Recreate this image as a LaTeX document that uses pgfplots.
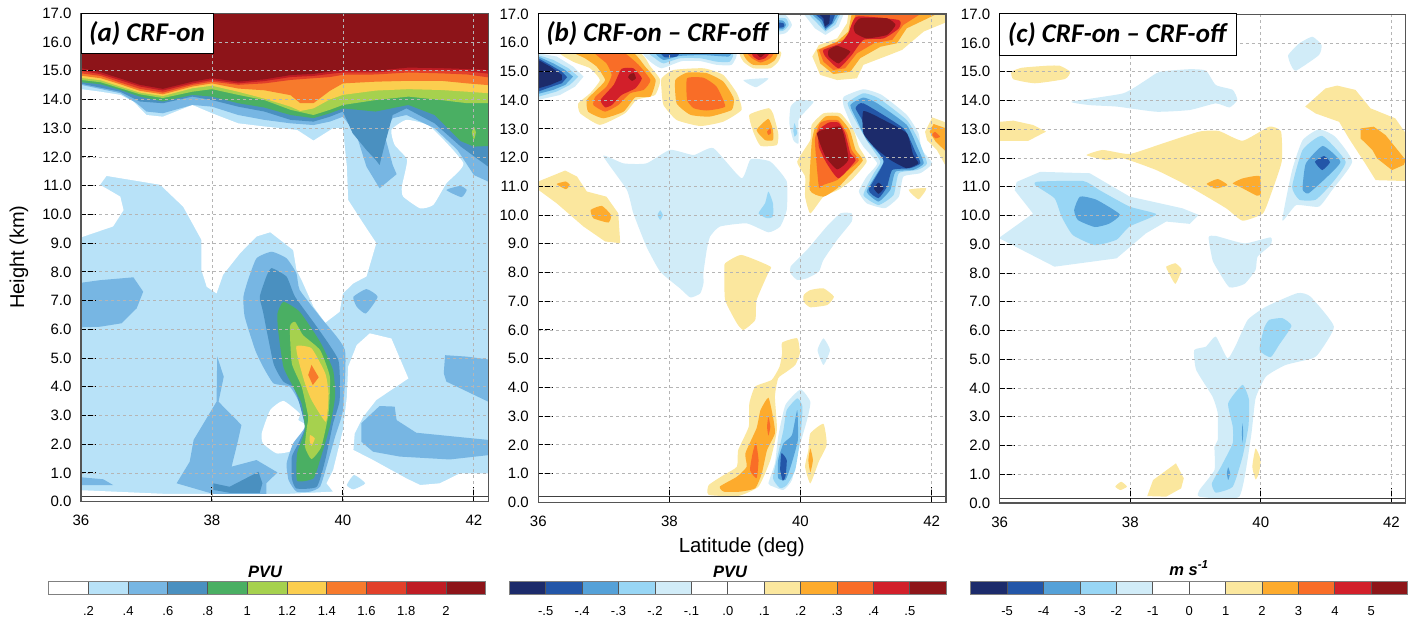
\documentclass[border=0pt]{standalone}
\usepackage{fontspec}
\usepackage{pgfplots}
\pgfplotsset{compat=1.18}
\setmainfont{Liberation Sans}
\newfontfamily\titlefont{Carlito}
\definecolor{lb}{HTML}{B8E2F8}\definecolor{mb}{HTML}{77B6E3}\definecolor{db}{HTML}{4A90C0}
\definecolor{gr}{HTML}{4AAF63}\definecolor{lg}{HTML}{A6D14E}\definecolor{ye}{HTML}{FBCE4F}
\definecolor{or}{HTML}{F77A2C}\definecolor{ro}{HTML}{E2402A}\definecolor{re}{HTML}{BF1C24}\definecolor{dr}{HTML}{8D1419}
\definecolor{nv}{HTML}{1C2B6B}\definecolor{bl}{HTML}{2356A8}\definecolor{me}{HTML}{55A1D8}
\definecolor{li}{HTML}{98D6F5}\definecolor{pa}{HTML}{D1ECF8}\definecolor{py}{HTML}{FBE79E}
\definecolor{og}{HTML}{FDAB2D}\definecolor{rg}{HTML}{F96D27}\definecolor{rd}{HTML}{D21F2A}\definecolor{dk}{HTML}{8E1519}
\definecolor{fr}{HTML}{555555}\definecolor{gd}{HTML}{B5B5B5}
\newcommand{\poly}[2]{\addplot[fill=#1,draw=none,forget plot,smooth cycle,tension=0.3] coordinates {#2};}
\newcommand{\edge}[2]{\addplot[fill=#1,draw=none,forget plot] coordinates {#2} -- cycle;}
\pgfplotsset{
 panel/.style={scale only axis,anchor=south west,xmin=36,xmax=42.22,ymin=0,ymax=17,
  xtick={36,38,40,42},ytick={0,1,...,17},axis on top=true,
  grid=major,grid style={dashed,gd,line width=0.8pt},
  xtick pos=bottom,ytick pos=left,tick align=inside,major tick length=15pt,
  tick style={black,line width=1pt,dash pattern=on 5pt off 2pt},
  axis line style={fr,line width=1.2pt,solid},
  /pgf/number format/assume math mode=true,
  xticklabel style={font=\fontsize{15}{15}\selectfont,yshift=-10pt},
  yticklabel style={font=\fontsize{15}{15}\selectfont,xshift=-6pt,
    /pgf/number format/fixed,/pgf/number format/fixed zerofill,/pgf/number format/precision=1},
 },
 cbar/.style={scale only axis,anchor=south west,ymin=0,ymax=1,xmin=0,ytick=\empty,
  height=12.6pt,width=437pt,axis on top=true,xmajorgrids,grid style={fr,line width=0.8pt,solid},
  axis line style={gray,line width=1pt},major tick length=0pt,
  xticklabel style={font=\fontsize{13}{13}\selectfont,yshift=-9pt},
 },
}
\newcommand{\cellat}[3]{\addplot[fill=#3,draw=none,forget plot] coordinates {(#1,0)(#2,0)(#2,1)(#1,1)} -- cycle;}
\begin{document}
\begin{tikzpicture}[x=1pt,y=1pt]
\useasboundingbox (0,0) rectangle (1418,620);
%% PANEL A
\begin{axis}[panel,at={(81pt,118.3pt)},width=407.3pt,height=488.4pt]
\edge{lb}{(36,0)(42.22,0)(42.22,17)(36,17)}
\edge{white}{(36,14.36)(36.3,14.27)(36.6,14.16)(36.8,13.93)(37,13.46)(37.25,13.4)(37.7,13.81)(38,13.52)(38.4,13.17)(38.8,13.06)(39.3,12.94)(39.55,12.57)(39.85,13)(40,13)(40.06,11.66)(40.08,10.5)(40.31,9.69)(40.51,9)(40.36,7.84)(40.16,7.6)(40,7.25)(39.95,6.61)(39.73,6.23)(39.55,6.79)(39.37,7.71)(39.29,8.07)(39.24,8.76)(38.89,9.38)(38.68,9.23)(38.43,8.65)(38.17,7.9)(38.07,7.25)(37.92,7.48)(37.84,8.06)(37.84,9.11)(37.56,10.27)(37.21,11.03)(36.39,11.34)(36.29,11.03)(36.6,10.62)(36.65,10.15)(36.49,9.58)(36,9.2)}
\poly{white}{(40.74,12.94)(40.97,13.29)(41.33,13.06)(41.84,11.78)(41.58,11.08)(41.38,10.33)(41.18,10.21)(40.92,10.62)(40.9,10.97)(40.98,11.9)(40.79,12.42)}
\edge{white}{(40.21,5.45)(40.41,5.86)(40.74,5.68)(41,4.29)(40.51,3.54)(40.31,2.96)(40.18,2.38)(40.16,1.8)(40.46,1.45)(40.97,.81)(41.18,.58)(41.48,.64)(41.79,.99)(42.22,.99)(42.22,0)(36,0)(36,.4)(37.31,.27)(39.14,.27)(39.85,.35)(39.75,.64)(39.85,1.1)(40,2.49)(40.06,3.65)(40.08,4.7)}
\poly{lb}{(40.06,.58)(40.17,.93)(40.34,.64)(40.16,.43)}
\poly{white}{(39.09,3.51)(39.34,3.07)(39.32,2.84)(39.45,2.61)(39.24,1.8)(38.99,1.68)(38.78,2.03)(38.76,2.38)(38.89,3.19)}
\edge{mb}{(36,7.62)(36.29,7.71)(36.8,7.81)(36.95,7.31)(36.85,6.73)(36.62,6.21)(36.29,6.09)(36,6.07)}
\edge{mb}{(36,.85)(36.34,.78)(36.49,.58)(36,.58)}
\edge{mb}{(37.46,.64)(37.66,1.39)(37.72,2.15)(38.07,3.48)(38.08,5.05)(38.18,4.35)(38.1,3.48)(38.45,2.67)(38.4,2.15)(38.3,1.22)(38.68,1.45)(39,1.02)(38.83,.64)(38.83,.27)(38.02,.27)}
\poly{mb}{(38.55,7.71)(38.68,8.47)(38.91,8.7)(39.14,8.47)(39.29,7.95)(39.34,7.37)(39.65,6.44)(40.03,5.28)(40,3.19)(39.88,2.26)(39.75,1.22)(39.65,.52)(39.5,.35)(39.29,.35)(39.17,.75)(39.14,1.33)(39.24,2.03)(39.42,2.61)(39.34,3.42)(39.19,4)(38.94,4.12)(38.78,4.7)(38.66,5.28)(38.5,6.44)(38.48,7.13)}
\poly{mb}{(40.16,7.13)(40.36,7.4)(40.53,7.13)(40.35,6.55)(40.21,6.79)}
\edge{mb}{(41.56,5.1)(41.89,5.05)(42.22,4.95)(42.22,3.48)(41.58,4.18)(41.54,4.47)}
\edge{mb}{(40.56,3.33)(40.79,3.31)(40.82,2.84)(41.12,2.4)(42.22,2.15)(42.22,1.62)(41.63,1.47)(40.87,1.57)(40.46,1.74)(40.28,2.09)(40.28,2.73)}
\poly{mb}{(41.58,10.85)(41.79,10.99)(41.89,10.85)(41.81,10.6)}
\poly{db}{(38.91,8.13)(39.14,7.83)(39.27,7.13)(39.6,6.09)(39.93,4.93)(39.95,3.54)(39.85,2.73)(39.73,1.45)(39.6,.52)(39.29,.46)(39.22,.81)(39.22,1.57)(39.32,2.03)(39.42,2.61)(39.32,3.54)(39.24,4)(39.09,4.18)(38.94,4.81)(38.78,6.61)(38.73,7.13)(38.83,7.83)}
\edge{db}{(38.02,.64)(38.27,.52)(38.71,1.04)(38.77,.64)(38.73,.31)(38.27,.31)(38.02,.41)}
\poly{gr}{(39.09,6.96)(39.34,6.61)(39.65,5.57)(39.85,4.58)(39.88,3.65)(39.8,2.61)(39.65,1.45)(39.55,.81)(39.3,.73)(39.3,1.68)(39.42,2.49)(39.37,3.42)(39.24,4)(39.09,4.7)(39.01,5.97)(39,6.55)}
\poly{lg}{(39.27,6.26)(39.39,5.8)(39.65,5.28)(39.8,4.35)(39.78,3.07)(39.67,1.91)(39.52,1.48)(39.42,1.91)(39.45,2.61)(39.47,2.96)(39.37,4)(39.22,4.81)(39.19,6.09)}
\poly{ye}{(39.29,5.42)(39.52,5.34)(39.73,4.47)(39.78,3.77)(39.74,2.78)(39.52,3.54)(39.42,4.12)(39.32,4.93)}
\poly{ye}{(39.5,2.32)(39.57,2.2)(39.52,1.94)(39.49,2.15)}
\edge{or}{(39.52,4.76)(39.63,4.33)(39.54,4.06)(39.47,4.41)}
% top bands, lowest level first
\edge{mb}{(36,14.51)(36.6,14.22)(36.85,13.87)(37,13.58)(37.25,13.52)(37.7,13.81)(38,13.75)(38.4,13.46)(38.8,13.29)(39.2,13.17)(39.55,13.11)(39.8,13.23)(40,13.4)(40.2,12.82)(40.36,11.66)(40.56,10.91)(40.82,11.4)(40.76,11.72)(40.63,12.82)(40.76,13.35)(40.97,13.46)(41.4,13)(41.75,12.24)(42,11.37)(42.22,11.14)(42.22,17)(36,17)}
\edge{db}{(36,14.55)(36.6,14.27)(36.9,13.93)(37.25,13.87)(37.7,14.1)(38,13.98)(38.4,13.75)(38.8,13.58)(39.2,13.29)(39.55,13.23)(39.8,13.4)(40,13.58)(40.15,12.82)(40.36,12.24)(40.5,11.9)(40.56,11.72)(40.63,12.36)(40.76,13.46)(40.97,13.69)(41.4,13.17)(41.8,12.36)(42.22,11.66)(42.22,17)(36,17)}
\edge{gr}{(36,14.6)(36.3,14.53)(36.6,14.33)(36.9,14.1)(37.25,13.93)(37.7,14.16)(38,14.1)(38.4,13.87)(38.8,13.72)(39.2,13.46)(39.55,13.35)(39.8,13.52)(40,13.69)(40.5,13.58)(41,13.81)(41.4,13.46)(41.8,12.55)(42,12.36)(42.22,12.38)(42.22,17)(36,17)}
\edge{lg}{(36,14.68)(36.3,14.6)(36.6,14.39)(36.9,14.18)(37.25,14.05)(37.7,14.27)(38,14.36)(38.4,14.16)(38.8,13.98)(39.2,13.64)(39.55,13.46)(39.8,13.64)(40,13.81)(40.5,13.98)(41,14.1)(41.5,13.98)(41.9,13.87)(42.22,13.87)(42.22,17)(36,17)}
\edge{ye}{(36,14.75)(36.3,14.67)(36.6,14.45)(36.9,14.24)(37.25,14.12)(37.7,14.39)(38,14.48)(38.4,14.27)(38.8,14.03)(39.2,13.75)(39.35,13.6)(39.55,13.69)(39.8,14)(40,14.16)(40.5,14.31)(41,14.36)(41.5,14.33)(41.9,14.27)(42.22,14.22)(42.22,17)(36,17)}
\edge{or}{(36,14.83)(36.3,14.74)(36.6,14.53)(36.9,14.3)(37.25,14.18)(37.7,14.45)(38,14.56)(38.4,14.38)(38.8,14.32)(39.2,14.15)(39.35,13.87)(39.55,13.87)(39.8,14.3)(40,14.56)(40.5,14.62)(41,14.65)(41.5,14.65)(41.9,14.56)(42.22,14.5)(42.22,17)(36,17)}
\edge{ro}{(36,14.91)(36.3,14.82)(36.6,14.59)(36.9,14.37)(37.25,14.24)(37.7,14.51)(38,14.62)(38.4,14.51)(38.8,14.56)(39.2,14.68)(39.55,14.74)(39.8,14.78)(40,14.86)(40.5,14.87)(41,14.94)(41.5,14.91)(41.9,14.87)(42.22,14.77)(42.22,17)(36,17)}
\edge{re}{(36,15)(36.3,14.88)(36.6,14.67)(36.9,14.45)(37.25,14.31)(37.7,14.56)(38,14.68)(38.4,14.56)(38.8,14.64)(39.2,14.78)(39.55,14.82)(39.8,14.89)(40,14.94)(40.5,14.94)(41,15.03)(41.5,15.01)(41.9,14.98)(42.22,14.9)(42.22,17)(36,17)}
\edge{dr}{(36,15.09)(36.3,14.95)(36.6,14.73)(36.9,14.51)(37.25,14.37)(37.7,14.62)(38,14.74)(38.4,14.62)(38.8,14.7)(39.2,14.85)(39.55,14.89)(39.8,14.97)(40,15.03)(40.5,15)(41,15.11)(41.5,15.09)(41.9,15.06)(42.22,15.03)(42.22,17)(36,17)}
\poly{lg}{(42,13.05)(42.03,12.85)(42,12.6)(41.97,12.85)}
\addplot[black!75,line width=0.9pt,forget plot] coordinates {(36,.17)(42.22,.17)};
\end{axis}
%% PANEL B
\begin{axis}[panel,at={(538.3pt,117.7pt)},width=407.7pt,height=488.3pt]
\edge{pa}{(36,15.63)(36.28,15.52)(36.53,15.17)(36.69,14.82)(36.56,14.47)(36.33,14.18)(36,14.01)}
\edge{li}{(36,15.57)(36.23,15.4)(36.46,15.11)(36.61,14.82)(36.48,14.53)(36.28,14.3)(36,14.12)}
\edge{me}{(36,15.52)(36.23,15.28)(36.41,15.05)(36.53,14.82)(36.41,14.53)(36.23,14.36)(36,14.22)}
\edge{bl}{(36,15.46)(36.18,15.23)(36.36,14.99)(36.44,14.8)(36.36,14.59)(36.18,14.45)(36,14.3)}
\edge{nv}{(36,15.4)(36.18,15.17)(36.36,14.88)(36.36,14.7)(36.18,14.53)(36,14.41)}
\poly{py}{(36.33,15.7)(37.5,15.7)(37.71,15.17)(37.86,14.7)(37.78,14.18)(37.5,14.01)(37.32,13.54)(36.94,13.14)(36.64,13.54)(36.61,13.89)(36.79,14.24)(36.94,14.7)(36.79,15.11)(36.53,15.34)}
\poly{og}{(36.53,15.7)(37.4,15.7)(37.63,15.17)(37.79,14.7)(37.71,14.12)(37.48,14.1)(37.3,13.6)(36.99,13.37)(36.76,13.6)(36.74,14.01)(36.89,14.36)(37.02,14.7)(36.89,15.17)(36.71,15.46)}
\poly{rg}{(36.84,15.7)(37.27,15.7)(37.53,15.23)(37.71,14.7)(37.61,14.36)(37.4,14.24)(37.22,13.83)(37.02,13.6)(36.84,13.83)(36.87,14.12)(37.04,14.47)(37.12,14.88)(37.04,15.28)}
\poly{rd}{(37.27,15.09)(37.45,15.11)(37.58,14.76)(37.48,14.41)(37.27,14.18)(37.12,13.83)(37.02,13.75)(36.95,14.01)(37.15,14.53)}
\poly{dk}{(37.4,14.91)(37.46,14.94)(37.49,14.76)(37.43,14.67)(37.37,14.8)}
\poly{py}{(37.88,14.76)(38.06,15.05)(38.52,15.11)(38.82,14.88)(39.03,14.24)(39.1,13.66)(38.82,13.25)(38.47,13.1)(38.11,13.31)(37.91,13.83)(37.88,14.36)}
\poly{og}{(38.09,14.7)(38.27,14.96)(38.57,14.94)(38.82,14.65)(38.98,14.07)(38.95,13.66)(38.62,13.43)(38.32,13.49)(38.11,13.89)}
\poly{rg}{(38.27,14.76)(38.52,14.78)(38.72,14.47)(38.85,13.78)(38.57,13.64)(38.37,13.72)(38.27,14.01)}
\poly{pa}{(37.63,15.7)(38.98,15.7)(38.95,15.23)(38.72,15.23)(38.47,15.36)(38.19,15.36)(37.88,15.11)(37.71,15.34)}
\poly{li}{(37.71,15.7)(38.93,15.7)(38.92,15.34)(38.72,15.34)(38.47,15.46)(38.16,15.46)(37.91,15.28)(37.78,15.46)}
\poly{me}{(37.81,15.7)(38.9,15.7)(38.9,15.52)(38.52,15.57)(38.16,15.54)(37.91,15.4)}
\poly{bl}{(37.86,15.7)(38.16,15.7)(38.11,15.52)(37.93,15.49)}
\poly{py}{(39.08,15.7)(39.69,15.7)(39.66,15.34)(39.54,15.11)(39.28,15.11)(39.13,15.34)}
\poly{og}{(39.13,15.7)(39.64,15.7)(39.61,15.4)(39.49,15.23)(39.28,15.23)(39.18,15.4)}
\poly{rg}{(39.18,15.7)(39.59,15.7)(39.54,15.46)(39.39,15.31)(39.26,15.46)}
\poly{rd}{(39.26,15.7)(39.54,15.7)(39.46,15.46)(39.36,15.4)(39.28,15.52)}
\poly{dk}{(39.31,15.7)(39.49,15.7)(39.39,15.49)}
\poly{pa}{(39.5,16.97)(39.77,16.97)(39.87,16.62)(39.77,16.33)(39.5,16.27)}
\poly{li}{(39.5,16.85)(39.77,16.85)(39.82,16.62)(39.74,16.42)(39.5,16.39)}
\poly{me}{(39.5,16.79)(39.73,16.77)(39.78,16.62)(39.73,16.47)(39.5,16.47)}
\poly{bl}{(39.5,16.73)(39.74,16.68)(39.74,16.54)(39.5,16.5)}
\edge{pa}{(40.05,17)(40.66,17)(40.58,16.56)(40.38,16.27)(40.22,16.5)}
\edge{li}{(40.12,17)(40.61,17)(40.53,16.62)(40.38,16.39)(40.28,16.62)}
\edge{me}{(40.17,17)(40.58,17)(40.5,16.68)(40.38,16.44)(40.3,16.73)}
\edge{bl}{(40.22,17)(40.53,17)(40.48,16.68)(40.38,16.5)(40.33,16.79)}
\edge{nv}{(40.28,17)(40.45,17)(40.44,16.68)(40.37,16.56)(40.35,16.85)}
\edge{py}{(40.73,17)(42.22,17)(42.21,16.7)(41.88,16.39)(41.55,15.75)(41.35,15.57)(40.96,15.23)(40.86,14.76)(40.56,14.7)(40.3,14.88)(40.18,15.52)(40.28,15.92)(40.56,16.15)(40.71,16.68)}
\edge{og}{(40.78,17)(42.08,17)(41.62,16.5)(41.47,15.98)(41.22,15.86)(40.91,15.46)(40.76,14.99)(40.5,14.91)(40.3,15.28)(40.25,15.75)(40.56,16.04)(40.73,16.39)}
\edge{rg}{(40.84,16.97)(41.83,17)(41.57,16.62)(41.4,16.1)(41.12,15.98)(40.86,15.63)(40.68,15.11)(40.5,15.05)(40.35,15.34)(40.28,15.75)(40.45,15.92)(40.71,16.15)}
\poly{rd}{(40.86,16.91)(41.5,16.79)(41.5,16.5)(41.27,16.15)(40.96,16.1)(40.78,15.57)(40.58,15.11)(40.38,15.52)(40.35,15.75)(40.61,15.98)(40.73,16.33)}
\poly{dk}{(40.91,16.85)(41.32,16.85)(41.45,16.62)(41.32,16.27)(41.01,16.15)(40.84,16.33)(40.81,16.56)}
\poly{dk}{(40.56,15.89)(40.76,15.69)(40.58,15.28)(40.43,15.52)(40.43,15.75)}
\poly{pa}{(39.13,14.7)(39.51,14.76)(39.32,14.45)}
\poly{py}{(39.22,13.49)(39.51,13.72)(39.58,13.54)(39.66,12.85)(39.64,12.44)(39.39,12.41)(39.28,12.9)}
\poly{og}{(39.33,12.96)(39.51,13.35)(39.58,12.96)(39.58,12.61)(39.46,12.61)}
\poly{rg}{(39.49,12.9)(39.54,13.02)(39.55,12.85)(39.51,12.79)}
\poly{pa}{(39.85,13.78)(39.97,14.01)(40.2,13.95)(40.07,13.6)(39.97,13.31)(39.97,12.5)(39.89,12.61)(39.83,13.2)}
\poly{li}{(39.91,13.2)(39.95,12.85)(39.91,12.73)(39.89,12.96)}
\poly{py}{(39.95,11.86)(40.15,12.61)(40.17,13.14)(40.35,13.54)(40.61,13.54)(40.81,12.96)(40.89,12.38)(41.01,11.86)(40.78,11.22)(40.58,10.88)(40.35,10.64)(40.15,10.06)(40.07,10.64)(40.07,11.34)}
\poly{og}{(40.14,10.88)(40.17,12.5)(40.22,13.02)(40.38,13.43)(40.58,13.43)(40.75,12.96)(40.84,12.27)(40.95,11.9)(40.73,11.34)(40.56,10.93)(40.35,10.64)}
\poly{rg}{(40.28,10.99)(40.22,12.61)(40.3,13.2)(40.43,13.31)(40.58,13.29)(40.71,12.85)(40.78,12.27)(40.89,11.9)(40.73,11.57)(40.56,11.22)(40.35,11.05)}
\poly{rd}{(40.28,12.38)(40.28,12.96)(40.43,13.22)(40.58,13.22)(40.68,12.85)(40.76,12.15)(40.84,11.9)(40.58,11.28)(40.4,11.8)}
\poly{dk}{(40.25,12.85)(40.43,13.02)(40.61,13.08)(40.67,12.73)(40.73,11.92)(40.56,11.59)(40.38,12.04)}
\poly{pa}{(40.66,14.12)(40.96,14.38)(41.24,14.18)(41.62,13.49)(41.8,12.85)(41.85,12.27)(42.01,11.8)(41.83,11.46)(41.57,11.34)(41.5,10.64)(41.29,10.24)(41.01,10.41)(40.89,10.82)(41.01,11.34)(41.17,11.8)(40.96,12.38)(40.81,12.96)(40.66,13.78)}
\poly{li}{(40.72,13.89)(40.96,14.24)(41.19,14.07)(41.62,13.31)(41.8,12.61)(41.93,11.8)(41.78,11.57)(41.5,11.46)(41.42,10.7)(41.19,10.35)(40.96,10.7)(41.12,11.46)(41.22,11.86)(41.04,12.5)(40.86,13.2)}
\poly{me}{(40.76,13.83)(40.96,14.09)(41.17,13.89)(41.62,13.14)(41.78,12.38)(41.88,11.8)(41.72,11.57)(41.45,11.51)(41.37,10.88)(41.19,10.47)(41.01,10.82)(41.17,11.46)(41.27,11.92)(41.01,12.61)(40.86,13.31)}
\poly{bl}{(40.84,13.72)(40.96,13.89)(41.57,13.02)(41.75,12.21)(41.83,11.8)(41.67,11.63)(41.4,11.57)(41.32,10.99)(41.19,10.59)(41.04,10.88)(41.27,11.86)(41.04,12.61)(40.94,13.31)}
\poly{nv}{(40.96,13.62)(41.27,13.31)(41.62,12.85)(41.72,12.09)(41.8,11.8)(41.62,11.63)(41.37,11.92)(41.12,12.38)(40.96,12.85)}
\poly{nv}{(41.12,10.93)(41.19,11.13)(41.27,10.93)(41.19,10.74)}
\edge{py}{(41.9,12.9)(42.01,13.4)(42.22,13.22)(42.22,11.69)(42.08,12.27)(41.93,12.61)}
\edge{og}{(41.97,12.9)(42.03,13.17)(42.22,13.02)(42.22,12.21)(42.06,12.56)}
\poly{rg}{(42.01,12.79)(42.05,12.9)(42.13,12.73)(42.06,12.67)}
\poly{py}{(41.65,10.88)(41.92,10.93)(41.8,10.55)}
\edge{py}{(36,11.17)(36.41,11.55)(36.59,11.34)(36.74,10.82)(37.04,10.64)(37.22,10.06)(37.25,9.02)(37.02,9.08)(36.69,9.6)(36.28,10.41)(36,10.88)}
\poly{og}{(36.28,11.08)(36.42,11.17)(36.48,11.05)(36.42,10.9)}
\poly{og}{(36.8,10.18)(36.97,10.32)(37.11,10)(37.07,9.74)(36.84,9.89)}
\poly{pa}{(36.99,12.06)(37.3,11.8)(37.65,11.8)(38.01,12.27)(38.37,12.09)(38.67,12.33)(39.1,11.28)(39.24,11.94)(39.54,11.86)(39.79,11.17)(39.79,10.18)(39.69,9.6)(39.51,9.4)(39.18,9.71)(38.77,9.6)(38.62,9.25)(38.57,8.79)(38.52,8)(38.52,7.62)(38.47,7.27)(38.32,7.13)(38.16,7.45)(37.86,8.03)(37.65,8.9)(37.45,10.06)(37.35,10.88)}
\poly{li}{(39.51,10.82)(39.58,10.41)(39.58,9.95)(39.49,9.89)(39.36,10.06)(39.46,10.41)}
\poly{li}{(37.86,10.16)(37.9,10)(37.86,9.83)(37.82,10)}
\poly{pa}{(39.85,8.21)(40.1,8.79)(40.4,9.6)(40.61,10.06)(40.78,10.06)(40.78,9.77)(40.56,9.14)(40.35,8.44)(40.28,8.03)(40.1,7.8)(39.95,7.74)(39.85,7.97)}
\poly{py}{(38.85,8.32)(39.1,8.61)(39.54,8.21)(39.51,8)(39.33,7.04)(39.31,6.35)(39.13,6)(39.03,6.23)(38.85,7.04)(38.84,8)}
\poly{py}{(40.05,7.22)(40.15,7.39)(40.35,7.45)(40.51,7.16)(40.41,6.87)(40.15,6.79)(40.05,6.98)}
\poly{pa}{(40.35,5.71)(40.45,5.3)(40.35,4.78)(40.26,5.3)}
\poly{py}{(39.72,5.56)(39.95,5.71)(39.99,5.19)(39.92,4.78)(39.79,4.55)(39.66,4.32)(39.61,3.68)(39.64,2.52)(39.54,1.47)(39.36,.55)(39.05,.22)(38.6,.26)(38.6,.6)(38.83,.95)(39.03,1.24)(39.05,1.82)(39.21,2.63)(39.22,3.45)(39.31,4.03)(39.56,4.26)(39.68,4.72)(39.72,5.19)}
\poly{og}{(39.51,3.64)(39.58,2.98)(39.61,2.4)(39.49,1.82)(39.41,1.01)(39.31,.49)(39.08,.37)(38.83,.37)(38.77,.55)(39.03,.89)(39.18,1.24)(39.16,1.71)(39.33,2.58)(39.39,3.21)}
\poly{rg}{(39.32,2.08)(39.36,1.47)(39.33,.84)(39.23,1.12)(39.27,1.71)}
\poly{rg}{(39.51,2.98)(39.54,2.63)(39.51,2.32)(39.49,2.63)}
\poly{pa}{(40,3.93)(40.15,3.5)(40.1,2.87)(39.97,1.82)(39.87,.78)(39.74,.43)(39.58,.55)(39.51,.66)(39.61,1.36)(39.66,2.29)(39.77,3.39)}
\poly{li}{(39.95,3.62)(40.03,3.33)(40,2.29)(39.92,1.13)(39.79,.6)(39.69,.49)(39.58,.84)(39.66,1.71)(39.74,2.52)(39.79,3.21)}
\poly{me}{(39.95,3.21)(39.96,2.17)(39.85,1.24)(39.77,.78)(39.66,.84)(39.66,1.47)(39.74,2.05)(39.87,2.34)}
\poly{bl}{(39.71,1.71)(39.79,1.47)(39.77,.89)(39.73,.75)(39.69,1.13)}
\poly{py}{(40.15,2.4)(40.35,2.73)(40.4,2)(40.28,1.42)(40.15,.66)(40.07,1.24)(40.12,1.82)}
\poly{og}{(40.15,1.88)(40.19,1.47)(40.15,1.04)(40.12,1.47)}
\addplot[black!75,line width=0.9pt,forget plot] coordinates {(36,.2)(42.22,.2)};
\end{axis}
%% PANEL C
\begin{axis}[panel,at={(999.7pt,117pt)},width=406pt,height=488.7pt]
\poly{py}{(36.18,15)(36.34,15.14)(36.72,15.21)(36.92,15.21)(37.08,15)(37,14.75)(36.54,14.6)(36.21,14.74)}
\edge{py}{(36,13.26)(36.21,13.3)(36.51,13.15)(36.71,12.92)(36.44,12.6)(36,12.6)}
\poly{pa}{(37.1,13.96)(37.89,14.25)(38.24,14.71)(38.45,15)(38.91,15.09)(39.16,15.04)(39.31,14.54)(39.57,14.37)(39.64,14.02)(39.52,13.76)(39.31,13.9)(38.91,13.67)(38.4,13.61)(37.79,13.79)(37.38,13.84)}
\poly{pa}{(40.42,15.58)(40.59,15.99)(40.79,16.22)(40.93,15.93)(40.89,15.58)(40.54,15.04)(40.46,15.24)}
\poly{py}{(37.33,12.1)(37.58,12.28)(37.99,12.14)(38.5,12.51)(39.06,12.92)(39.36,12.94)(39.72,12.6)(40.13,13.09)(40.31,12.92)(40.32,11.87)(40.15,10.71)(40.03,10.07)(39.72,9.82)(39.47,10.25)(38.91,11)(38.4,11.58)(37.89,11.99)(37.63,11.93)}
\poly{og}{(39.17,11.1)(39.34,11.27)(39.49,11.06)(39.31,10.94)}
\poly{og}{(39.57,11.12)(39.72,11.29)(39.98,11.37)(40,10.77)(39.94,10.69)(39.67,11.01)}
\edge{py}{(40.68,13.79)(40.99,14.42)(41.17,14.52)(41.45,14.37)(41.68,13.73)(42.06,13.38)(42.22,12.86)(42.22,11.2)(41.76,11.23)(41.6,11.81)(41.35,12.68)(41.2,13.26)(40.84,13.55)}
\edge{og}{(41.53,13.03)(41.73,13.09)(41.91,12.8)(42.22,11.93)(42.19,11.76)(42.01,11.58)(41.78,11.99)(41.71,12.28)(41.53,12.68)}
\poly{py}{(38.55,8.22)(38.69,8.34)(38.78,8.16)(38.78,8.05)(38.69,7.62)(38.58,8.05)}
\edge{pa}{(36,9.2)(36.84,8.22)(37.79,8.51)(38.24,9.38)(38.55,9.79)(38.91,9.71)(39.05,10.02)(38.8,10.25)(37.99,10.66)(37.38,11.47)(36.62,11.52)(36.26,11.17)(36.23,10.88)(36.51,10.07)(36,9.24)}
\poly{li}{(36.54,11.06)(36.59,11.18)(37.28,11.2)(37.53,10.88)(37.99,10.31)(38.4,10.04)(37.99,9.62)(37.79,9.16)(37.46,8.97)(37.12,9.32)(36.95,9.95)(36.84,10.6)}
\poly{me}{(37.23,10.66)(37.48,10.55)(37.84,10.04)(37.68,9.72)(37.46,9.6)(37.2,9.84)(37.14,10.19)}
\poly{pa}{(40.33,9.83)(40.48,11.58)(40.64,12.62)(40.89,13)(41.14,12.74)(41.4,11.87)(41.09,10.88)(40.89,10.31)(40.54,10.36)}
\poly{li}{(40.48,11)(40.64,12.28)(40.94,12.77)(41.3,11.87)(41.09,11.12)(40.84,10.55)(40.59,10.55)}
\poly{me}{(40.64,11)(40.69,11.81)(40.95,12.42)(41.22,11.87)(40.99,11.29)(40.73,10.77)(40.65,10.86)}
\poly{bl}{(40.83,11.87)(40.97,12.07)(41.06,11.85)(40.94,11.58)}
\poly{pa}{(39.2,9.24)(39.31,9.29)(39.75,9.03)(40.15,9.24)(40.15,8.97)(39.95,8.57)(39.92,8.11)(39.75,7.62)(39.52,7.5)(39.34,8.11)(39.26,8.45)}
\poly{pa}{(40.56,7.3)(40.76,7.18)(41.12,6.14)(40.89,5.21)(40.79,5.03)(40.38,4.8)(40.08,4.4)(39.92,3.64)(39.85,2.31)(39.67,.22)(39.06,.22)(39.06,.45)(39.29,1.15)(39.29,1.96)(39.34,2.19)(39.34,3.12)(39.26,3.7)(39.01,4.63)(38.98,5.32)(39.16,5.44)(39.31,5.79)(39.49,5.03)(39.62,5.5)(39.8,6.37)(40.08,6.83)}
\poly{li}{(40.13,6.37)(40.33,6.43)(40.47,6.16)(40.28,5.5)(40.15,5.07)(39.98,5.32)(40.05,6.08)}
\poly{li}{(39.72,4.11)(39.82,3.58)(39.81,2.66)(39.72,1.61)(39.57,.57)(39.31,.36)(39.25,.68)(39.39,1.26)(39.57,2.08)(39.57,2.66)(39.5,3.47)}
\poly{me}{(39.72,2.77)(39.73,2.42)(39.72,2.1)(39.71,2.42)}
\poly{me}{(39.5,1.24)(39.53,1.03)(39.5,.8)(39.48,1.03)}
\edge{py}{(38.26,.24)(38.35,.8)(38.7,1.38)(38.82,.86)(38.78,.51)(38.55,.22)}
\poly{py}{(37.77,.57)(37.86,.74)(37.95,.57)(37.85,.45)}
\poly{py}{(39.92,1.9)(40,1.5)(39.97,1.03)(39.92,.82)(39.87,1.26)}
\addplot[black!75,line width=0.9pt,forget plot] coordinates {(36,.17)(42.22,.17)};
\end{axis}
%% COLOUR BARS
\begin{axis}[cbar,at={(48.7pt,25.7pt)},xmax=11,xtick={1,...,10},xticklabels={.2,.4,.6,.8,1,1.2,1.4,1.6,1.8,2}]
\cellat{1}{2}{lb}\cellat{2}{3}{mb}\cellat{3}{4}{db}\cellat{4}{5}{gr}\cellat{5}{6}{lg}\cellat{6}{7}{ye}\cellat{7}{8}{or}\cellat{8}{9}{ro}\cellat{9}{10}{re}\cellat{10}{11}{dr}
\end{axis}
\begin{axis}[cbar,at={(509.3pt,25.7pt)},xmax=12,xtick={1,...,11},xticklabels={-.5,-.4,-.3,-.2,-.1,.0,.1,.2,.3,.4,.5}]
\cellat{0}{1}{nv}\cellat{1}{2}{bl}\cellat{2}{3}{me}\cellat{3}{4}{li}\cellat{4}{5}{pa}\cellat{7}{8}{py}\cellat{8}{9}{og}\cellat{9}{10}{rg}\cellat{10}{11}{rd}\cellat{11}{12}{dk}
\end{axis}
\begin{axis}[cbar,at={(970.7pt,25.7pt)},xmax=12,xtick={1,...,11},xticklabels={-5,-4,-3,-2,-1,0,1,2,3,4,5}]
\cellat{0}{1}{nv}\cellat{1}{2}{bl}\cellat{2}{3}{me}\cellat{3}{4}{li}\cellat{4}{5}{pa}\cellat{7}{8}{py}\cellat{8}{9}{og}\cellat{9}{10}{rg}\cellat{10}{11}{rd}\cellat{11}{12}{dk}
\end{axis}
%% TEXT
\begin{scope}[shift={(0,620)},y=-1pt]
\draw[black,line width=0.9pt,fill=white] (81,13) rectangle (213,53);
\draw[black,line width=0.9pt,fill=white] (538.3,13) rectangle (778.7,53.3);
\draw[black,line width=0.9pt,fill=white] (999.7,13.5) rectangle (1236.7,55);
\node[anchor=center] at (147,34) {\titlefont\fontsize{27}{27}\selectfont\bfseries\itshape (a) CRF-on};
\node[anchor=center] at (657,34) {\titlefont\fontsize{27}{27}\selectfont\bfseries\itshape (b) CRF-on – CRF-off};
\node[anchor=center] at (1117,34.5) {\titlefont\fontsize{27}{27}\selectfont\bfseries\itshape (c) CRF-on – CRF-off};
\node[rotate=90] at (19,257) {\fontsize{20}{20}\selectfont Height (km)};
\node at (741.7,547) {\fontsize{20.4}{20.4}\selectfont Latitude (deg)};
\node at (265,571.5) {\fontsize{16.5}{16.5}\selectfont\itshape\bfseries PVU};
\node at (730,571.5) {\fontsize{16.5}{16.5}\selectfont\itshape\bfseries PVU};
\node at (1189,568) {\fontsize{16.5}{16.5}\selectfont\itshape\bfseries m s\textsuperscript{-1}};
\end{scope}
\end{tikzpicture}
\end{document}
